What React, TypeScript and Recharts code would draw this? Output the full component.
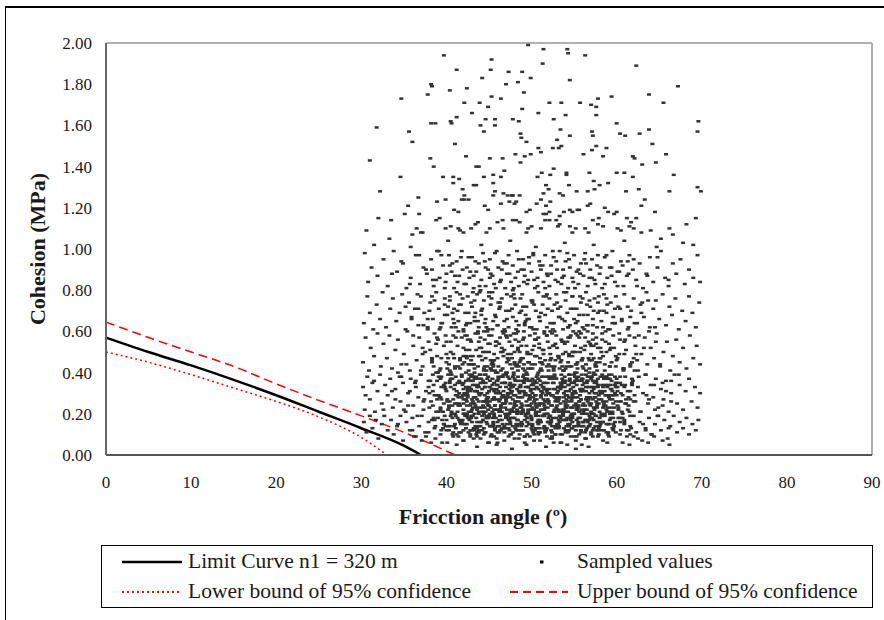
import React from 'react';
import {
  ComposedChart,
  Line,
  Scatter,
  XAxis,
  YAxis,
  ReferenceLine,
  Legend,
  Label,
} from 'recharts';

// Limit curve and its 95% confidence bounds (friction angle in degrees, cohesion in MPa)
const limitX = [0, 5, 10, 15, 20, 25, 30, 35, 37];
const limitY = [0.57, 0.5, 0.435, 0.365, 0.29, 0.21, 0.13, 0.045, 0];
const upperX = [0, 5, 10, 15, 20, 25, 30, 35, 41];
const upperY = [0.645, 0.57, 0.5, 0.43, 0.345, 0.265, 0.19, 0.11, 0];
const lowerX = [0, 5, 10, 15, 20, 25, 30, 33];
const lowerY = [0.5, 0.45, 0.39, 0.325, 0.26, 0.185, 0.085, 0];

const xTicks = [0, 10, 20, 30, 40, 50, 60, 70, 80, 90];
const yTicks = [0, 0.2, 0.4, 0.6, 0.8, 1.0, 1.2, 1.4, 1.6, 1.8, 2.0];

// Sampled values as flat pairs: friction angle in tenths of a degree, cohesion in hundredths of MPa
const sampledTop = [
  496,199, 514,197, 542,197, 543,195, 563,194, 397,194, 453,192, 513,190, 623,189, 412,187,
  452,187, 473,186, 489,186, 499,183, 442,183, 545,182, 470,180, 484,181, 382,180, 383,179,
  672,179, 404,177, 424,178, 491,176, 347,173, 378,175, 453,174, 464,173, 638,175, 578,173,
  594,174, 421,171, 439,171, 449,169, 489,168, 521,171, 535,171, 557,171, 570,170, 576,169,
  655,171, 430,166, 508,166, 576,165, 540,165, 382,161, 387,161, 405,162, 406,161, 412,164,
  446,163, 457,163, 457,160, 440,160, 444,157, 478,163, 485,162, 526,163, 600,161, 696,162,
  318,159, 356,157, 534,158, 695,157, 571,157, 572,155, 487,156, 488,154, 545,155, 604,156,
  610,155, 627,156, 638,158, 360,152, 494,152, 410,151, 530,153, 532,149, 535,150, 508,149,
  525,149, 576,150, 588,149, 642,151, 310,143, 381,144, 423,145, 435,140, 438,140, 451,144,
  466,144, 481,146, 487,142, 492,145, 499,146, 511,147, 561,146, 571,148, 584,145, 619,145,
  621,144, 630,141, 646,142, 658,146, 385,140, 346,135, 396,135, 408,135, 415,134, 444,135,
  455,136, 464,135, 468,138, 507,135, 512,137, 522,136, 526,139, 541,137, 541,136, 568,137,
  573,133, 600,137, 609,137, 619,135, 667,136, 322,128, 367,125, 355,121, 408,132, 419,129,
  432,131, 435,131, 455,132, 457,128, 467,127, 477,126, 421,126, 426,124, 517,131, 520,129,
  514,127, 533,127, 537,126, 544,131, 553,128, 566,128, 574,129, 580,131, 590,132, 611,128,
  626,129, 662,128, 695,130, 699,128,
];

const sampledHigh = [
  389,123, 399,124, 409,119, 414,118, 418,124, 421,124, 445,121, 449,119, 455,126, 464,122,
  472,126, 478,126, 486,126, 474,123, 480,122, 482,123, 494,118, 498,119, 506,122, 511,124,
  517,121, 522,123, 514,117, 517,117, 521,118, 533,116, 538,118, 545,119, 548,118, 554,119,
  556,119, 566,121, 569,122, 572,114, 579,115, 586,120, 590,118, 597,117, 600,118, 612,115,
  617,113, 623,115, 629,121, 633,124, 645,118, 682,112, 693,115, 306,109, 320,115, 335,114,
  333,105, 351,117, 368,117, 360,107, 370,108, 365,110, 372,108, 388,114, 392,115, 399,110,
  405,111, 414,110, 416,109, 420,108, 429,110, 434,112, 437,113, 447,108, 451,110, 460,113,
  466,114, 467,110, 478,114, 482,114, 486,113, 494,108, 496,110, 500,111, 511,110, 516,114,
  521,114, 529,114, 531,111, 533,112, 545,111, 548,108, 552,110, 563,110, 567,108, 578,112,
  584,111, 601,110, 605,109, 615,111, 620,110, 629,108, 640,109, 652,105, 662,110, 666,107,
  678,103, 690,102, 315,102, 358,101, 402,104, 441,102, 475,104, 505,101, 539,103, 573,102,
  609,104, 647,101,
];

const sampledUpperMid = [
  304,98, 312,91, 308,84, 319,87, 326,95, 331,82, 338,99, 342,89, 349,93, 353,81,
  358,86, 364,97, 369,83, 373,91, 377,88, 382,95, 385,82, 389,99, 392,86, 396,92,
  399,84, 403,97, 406,89, 409,81, 412,94, 415,87, 418,99, 421,83, 424,91, 427,86,
  430,96, 432,81, 435,89, 438,93, 441,85, 443,98, 446,82, 449,90, 451,95, 454,87,
  456,83, 459,99, 461,91, 464,85, 466,94, 469,81, 471,88, 473,97, 476,84, 478,92,
  481,86, 483,99, 485,82, 488,90, 490,95, 492,87, 495,83, 497,93, 500,89, 502,98,
  504,81, 507,86, 509,94, 511,90, 514,84, 516,97, 518,88, 521,82, 523,92, 526,96,
  528,85, 530,90, 533,99, 535,83, 538,87, 540,94, 543,81, 545,91, 548,86, 550,97,
  553,89, 555,83, 558,93, 561,87, 563,98, 566,82, 569,90, 571,95, 574,85, 577,92,
  580,88, 583,81, 586,96, 589,86, 592,91, 595,99, 598,84, 601,89, 605,94, 608,82,
  612,87, 615,97, 619,90, 623,85, 627,93, 631,81, 635,88, 639,96, 643,84, 648,91,
  652,99, 657,86, 661,82, 666,93, 670,88, 675,95, 680,83, 685,90, 690,86, 695,97,
  698,84, 383,90, 388,85, 394,97, 400,88, 407,93, 413,84, 419,90, 426,96, 432,87,
  439,82, 445,94, 452,88, 458,81, 465,90, 471,93, 478,80, 484,89, 491,84, 497,96,
  503,85, 510,92, 516,81, 523,88, 529,94, 536,86, 542,98, 549,84, 555,90, 562,95,
  568,86, 575,83, 581,91, 588,97, 594,87, 601,82, 607,92, 614,88, 620,95,
  336,88, 347,94, 357,83, 368,97, 376,90, 384,85, 391,99, 398,81, 404,92, 410,87,
  417,96, 423,83, 428,89, 434,94, 440,80, 446,91, 451,86, 457,98, 463,84, 468,93,
  474,88, 479,81, 485,95, 491,90, 496,85, 502,97, 507,82, 513,92, 519,87, 525,99,
  531,84, 537,90, 544,95, 551,81, 557,88, 564,93, 571,86, 578,97, 586,83, 594,91,
  603,89, 613,94, 624,82, 636,87, 648,96, 661,85,
];

const sampledMid = [
  303,64, 307,77, 310,69, 314,61, 318,73, 322,66, 325,79, 329,62, 334,71, 337,76,
  341,65, 345,69, 348,78, 352,61, 356,74, 359,67, 363,71, 367,63, 370,77, 374,69,
  378,62, 381,74, 384,66, 388,79, 391,71, 395,64, 398,76, 602,72, 606,65, 609,78,
  613,61, 617,70, 620,76, 624,64, 628,73, 632,67, 635,79, 639,62, 643,71, 646,75,
  650,66, 654,78, 658,63, 662,72, 665,68, 669,76, 673,61, 677,70, 681,65, 685,77,
  689,69, 693,62, 697,74, 401,68, 404,75, 406,62, 409,71, 412,79, 414,65, 417,73,
  420,61, 422,69, 425,77, 428,64, 430,72, 433,67, 436,78, 438,62, 441,70, 444,75,
  446,66, 449,61, 452,73, 454,79, 457,68, 460,63, 462,71, 465,76, 468,65, 470,70,
  473,62, 476,77, 478,67, 481,73, 484,60, 486,69, 489,78, 492,64, 494,72, 497,66,
  500,75, 502,61, 505,70, 508,79, 510,65, 513,73, 516,68, 518,62, 521,76, 524,70,
  526,64, 529,78, 532,67, 534,72, 537,61, 540,75, 542,69, 545,63, 548,77, 550,66,
  553,71, 556,60, 558,74, 561,68, 564,79, 566,63, 569,72, 572,66, 574,76, 577,62,
  580,70, 582,65, 585,78, 588,69, 590,61, 593,74, 596,67, 598,71, 402,72, 408,66,
  413,70, 419,76, 423,63, 429,74, 434,69, 439,79, 445,64, 450,77, 455,65, 461,74,
  466,60, 471,78, 477,71, 482,65, 487,76, 493,68, 498,62, 503,73, 509,67, 514,77,
  519,71, 525,61, 530,74, 536,66, 541,79, 546,71, 552,64, 557,77, 562,61, 568,75,
  573,70, 579,77, 584,62, 589,73, 595,64,
  352,72, 359,66, 366,78, 373,63, 380,70, 386,75, 392,61, 398,68, 404,77, 409,64,
  415,73, 420,60, 426,69, 431,79, 437,65, 442,71, 447,62, 453,76, 458,67, 463,74,
  469,60, 474,70, 479,78, 485,63, 490,72, 495,66, 501,75, 506,61, 511,69, 517,77,
  522,64, 527,73, 533,67, 538,79, 543,62, 549,71, 554,65, 560,76, 566,68, 572,63,
  578,74, 585,70, 592,61, 599,77, 606,66, 613,72, 621,64, 629,69, 637,75, 645,62,
  361,58, 367,71, 372,49, 378,66, 383,77, 388,54, 393,62, 398,73, 402,47, 407,69,
  411,57, 416,78, 420,52, 424,64, 429,46, 433,75, 437,59, 441,68, 446,50, 450,79,
  454,61, 458,55, 463,72, 467,48, 471,66, 475,58, 480,76, 484,51, 488,70, 492,63,
  497,45, 501,74, 505,56, 509,67, 514,49, 518,78, 522,60, 526,53, 531,71, 535,46,
  539,65, 543,57, 548,77, 552,50, 556,68, 560,62, 565,73, 569,54, 573,47, 578,69,
  583,59, 588,76, 593,52, 598,64, 604,71, 610,56, 616,67, 623,49, 630,74, 638,60,
  646,55,
];

const sampledLowerMid = [
  302,45, 305,57, 309,41, 311,52, 315,48, 319,59, 323,43, 326,54, 330,47, 333,58,
  336,42, 340,51, 343,56, 347,44, 350,49, 354,60, 357,41, 361,53, 365,46, 368,57,
  372,43, 375,50, 379,55, 383,45, 386,59, 389,48, 393,42, 397,53, 601,47, 604,56,
  608,42, 611,51, 615,58, 618,45, 622,53, 625,41, 629,49, 633,57, 636,44, 640,52,
  644,47, 647,59, 651,43, 655,50, 659,55, 663,41, 666,48, 670,56, 674,45, 678,52,
  682,42, 686,58, 690,47, 694,53, 698,44, 400,55, 403,44, 405,50, 408,58, 410,42,
  413,53, 416,47, 418,57, 421,45, 423,51, 426,41, 429,55, 431,48, 434,59, 437,43,
  439,52, 442,46, 445,56, 447,41, 450,50, 453,58, 455,44, 458,53, 460,47, 463,57,
  466,42, 468,51, 471,45, 474,55, 476,49, 479,59, 482,43, 484,52, 487,46, 490,56,
  492,41, 495,50, 498,58, 500,44, 503,53, 506,48, 508,57, 511,42, 514,51, 516,46,
  519,55, 522,49, 524,59, 527,43, 530,52, 532,47, 535,56, 538,41, 540,50, 543,45,
  546,58, 548,48, 551,53, 554,42, 556,57, 559,46, 562,51, 564,44, 567,55, 570,49,
  572,59, 575,43, 578,52, 580,47, 583,56, 586,41, 588,50, 591,54, 594,45, 596,58,
  599,48, 381,51, 385,43, 390,56, 394,47, 399,58, 404,41, 409,47, 414,60, 419,44,
  424,58, 428,48, 433,42, 438,55, 443,50, 448,60, 452,46, 457,41, 462,54, 467,59,
  472,47, 477,42, 481,56, 486,50, 491,60, 496,45, 501,51, 505,56, 510,47, 515,60,
  520,44, 525,53, 529,58, 534,45, 539,54, 544,48, 549,60, 553,44, 558,52, 563,57,
  568,46, 573,53, 577,41, 582,50, 587,55, 592,43, 597,52, 603,59, 609,49, 616,43,
  621,57, 420,48, 425,56, 430,44, 435,51, 440,57, 445,43, 451,54, 456,49, 461,43,
  465,52, 470,58, 475,44, 480,50, 485,55, 490,47, 494,53, 499,42, 504,59, 509,52,
  513,44, 518,58, 523,47, 528,54, 533,42, 537,49, 542,55, 547,43, 552,59, 557,50,
  561,42, 566,60, 571,46, 576,54,
  372,52, 378,61, 383,47, 389,57, 394,64, 400,49, 405,55, 411,62, 416,46, 422,58,
  427,51, 433,65, 438,48, 444,60, 449,54, 455,46, 460,63, 466,50, 471,57, 477,47,
  482,61, 488,53, 493,65, 499,49, 504,56, 510,45, 515,59, 521,52, 526,64, 532,48,
  537,55, 543,62, 548,50, 554,58, 559,46, 565,63, 570,53, 576,57, 581,47, 587,60,
  592,51, 598,64, 603,49, 609,55, 614,62, 620,47, 626,58, 632,52,
  423,48, 428,56, 432,44, 437,60, 441,52, 446,47, 450,58, 455,43, 459,55, 464,50,
  468,61, 473,46, 477,53, 482,59, 486,45, 491,57, 495,49, 500,62, 504,44, 509,54,
  513,51, 518,58, 522,46, 527,60, 531,48, 536,55, 540,42, 545,57, 549,50, 554,45,
  558,59, 563,53, 567,47, 572,56, 576,43, 581,52,
];

const sampledCore = [
  302,33, 304,22, 307,38, 310,27, 313,35, 316,21, 319,31, 322,39, 324,25, 328,34,
  331,29, 334,37, 337,23, 340,32, 343,40, 346,26, 349,35, 352,21, 355,30, 358,37,
  361,24, 364,33, 367,28, 370,39, 373,22, 376,31, 379,36, 382,26, 385,34, 388,21,
  391,29, 394,38, 397,25, 305,29, 315,36, 326,22, 336,31, 345,38, 355,24, 364,36,
  374,27, 384,39, 393,23, 601,24, 604,35, 607,29, 610,38, 613,22, 616,31, 619,36,
  622,26, 625,33, 628,21, 631,30, 634,39, 637,25, 640,34, 643,28, 646,37, 649,23,
  652,32, 655,27, 658,36, 661,21, 664,30, 668,39, 671,25, 674,34, 678,22, 681,31,
  685,37, 688,26, 692,33, 695,23, 698,30, 606,21, 616,27, 626,38, 635,29, 645,22,
  654,35, 664,26, 673,39,
  400,31, 403,23, 405,37, 408,27, 410,34, 413,21, 415,30, 418,39, 420,25, 423,33,
  425,28, 428,36, 430,22, 433,31, 435,38, 438,26, 440,35, 443,21, 445,29, 448,37,
  450,24, 453,32, 455,27, 458,40, 460,22, 463,30, 465,35, 468,25, 470,33, 473,20,
  475,28, 478,38, 480,24, 483,32, 485,26, 488,36, 490,21, 493,30, 495,39, 498,27,
  500,34, 503,22, 505,29, 508,37, 510,25, 513,33, 515,20, 518,31, 520,38, 523,24,
  525,35, 528,28, 530,22, 533,33, 535,39, 538,26, 540,31, 543,21, 545,36, 548,29,
  550,24, 553,34, 555,38, 558,27, 560,32, 563,22, 565,36, 568,30, 570,25, 573,39,
  575,28, 578,33, 580,21, 583,30, 585,37, 588,26, 590,34, 593,23, 595,31, 598,38,
  401,26, 404,35, 406,21, 409,32, 411,38, 414,28, 416,24, 419,34, 421,20, 424,30,
  426,37, 429,25, 431,34, 434,28, 436,22, 439,39, 441,30, 444,26, 446,33, 449,22,
  451,36, 454,21, 456,31, 459,27, 461,38, 464,24, 466,29, 469,35, 471,22, 474,37,
  476,31, 479,21, 481,29, 484,38, 486,33, 489,24, 491,35, 494,26, 496,22, 499,31,
  501,37, 504,27, 506,33, 509,21, 511,29, 514,38, 516,26, 519,23, 521,32, 524,29,
  526,21, 529,37, 531,31, 534,25, 536,21, 539,35, 541,27, 544,39, 546,23, 549,33,
  551,38, 554,28, 556,21, 559,36, 561,25, 564,31, 566,20, 569,38, 571,33, 574,23,
  576,35, 579,25, 581,38, 584,23, 586,31, 589,21, 591,28, 594,36, 596,25, 599,33,
  380,30, 384,24, 389,36, 393,28, 398,33, 402,39, 407,24, 411,29, 416,35, 420,22,
  425,31, 429,38, 434,24, 438,30, 443,36, 447,27, 452,23, 456,35, 461,31, 465,21,
  470,27, 474,34, 479,29, 483,22, 488,31, 492,37, 497,24, 501,30, 506,23, 510,36,
  515,32, 519,27, 524,37, 528,32, 533,28, 537,36, 542,24, 546,32, 551,28, 555,23,
  560,37, 564,27, 569,24, 573,32, 578,37, 582,27, 587,34, 591,39, 596,29, 600,35,
  605,26, 609,33, 614,24, 618,34,
  430,27, 433,37, 436,33, 439,23, 442,32, 445,39, 448,30, 451,26, 454,37, 457,24,
  460,34, 463,27, 466,38, 469,23, 472,30, 475,25, 478,34, 481,36, 484,28, 487,23,
  490,38, 493,33, 496,29, 499,22, 502,35, 505,25, 508,32, 511,22, 514,35, 517,29,
  520,26, 523,38, 526,32, 529,23, 532,28, 535,35, 538,30, 541,23, 544,34, 547,26,
  550,31, 553,37, 556,26, 559,22, 562,35, 565,28, 568,33, 571,38, 574,30, 577,24,
];

const sampledDense = [
  380,23, 384,31, 387,14, 391,38, 394,27, 398,19, 401,42, 405,33, 408,11, 412,25,
  415,36, 419,17, 422,29, 426,44, 429,21, 433,34, 436,13, 440,39, 443,26, 447,16,
  450,31, 454,45, 457,22, 461,37, 464,12, 468,28, 471,40, 475,18, 478,33, 482,24,
  485,43, 489,15, 492,30, 496,20, 499,36, 503,10, 506,27, 510,41, 513,19, 517,32,
  520,25, 524,14, 527,38, 531,22, 534,35, 538,28, 541,17, 545,43, 548,30, 552,12,
  555,24, 559,37, 562,20, 566,33, 569,15, 573,40, 576,26, 580,18, 583,34, 587,29,
  590,11, 594,39, 597,23, 601,31, 604,16, 608,42, 611,27, 615,21, 618,35,
  381,36, 385,18, 389,27, 392,41, 396,13, 399,32, 403,24, 406,39, 410,20, 413,29,
  417,15, 420,35, 424,26, 427,44, 431,19, 434,31, 438,11, 441,37, 445,23, 448,28,
  452,42, 455,16, 459,34, 462,21, 466,38, 469,25, 473,13, 476,30, 480,45, 483,17,
  487,33, 490,22, 494,40, 497,27, 501,12, 504,36, 508,19, 511,31, 515,24, 518,43,
  522,15, 525,29, 529,37, 532,21, 536,10, 539,33, 543,26, 546,18, 550,39, 553,23,
  557,32, 560,14, 564,41, 567,28, 571,20, 574,35, 578,12, 581,30, 585,24, 588,38,
  592,17, 595,27, 599,43, 602,22, 606,34, 609,15, 613,31, 616,19, 620,26,
  383,17, 386,29, 390,40, 393,22, 397,34, 400,12, 404,26, 407,37, 411,19, 414,43,
  418,28, 421,15, 425,32, 428,24, 432,38, 435,10, 439,30, 442,21, 446,35, 449,18,
  453,41, 456,27, 460,14, 463,33, 467,25, 470,39, 474,20, 477,31, 481,13, 484,36,
  488,23, 491,44, 495,16, 498,28, 502,34, 505,21, 509,11, 512,38, 516,26, 519,30,
  523,17, 526,42, 530,24, 533,33, 537,19, 540,36, 544,14, 547,27, 551,40, 554,22,
  558,31, 561,16, 565,35, 568,25, 572,12, 575,39, 579,29, 582,20, 586,44, 589,23,
  593,32, 596,15, 600,37, 603,26, 607,18, 610,34, 614,28, 617,13, 621,41,
  410,25, 413,35, 416,16, 419,29, 423,40, 426,21, 429,32, 432,13, 436,27, 439,37,
  442,19, 445,33, 449,24, 452,42, 455,15, 458,30, 462,22, 465,38, 468,11, 471,28,
  475,35, 478,18, 481,26, 484,41, 488,20, 491,31, 494,14, 497,36, 501,23, 504,29,
  507,39, 510,17, 514,33, 517,12, 520,26, 523,43, 527,21, 530,30, 533,16, 536,37,
  540,24, 543,34, 546,19, 549,28, 553,40, 556,14, 559,32, 562,22, 566,36, 569,18,
  572,27, 575,44, 579,13, 582,31, 585,25, 588,38, 592,20, 595,29, 598,34,
  421,30, 424,20, 427,39, 431,26, 434,14, 437,34, 441,23, 444,42, 447,18, 450,31,
  454,27, 457,12, 460,36, 463,22, 467,29, 470,40, 473,17, 476,33, 480,25, 483,44,
  486,15, 489,28, 493,37, 496,21, 499,32, 502,11, 506,35, 509,24, 512,41, 515,19,
  519,30, 522,16, 525,38, 528,26, 532,13, 535,34, 538,22, 541,43, 545,28, 548,18,
  551,36, 554,24, 558,31, 561,14, 564,39, 567,27, 571,20, 574,33, 577,23, 580,45,
  584,16, 587,29, 590,37,
  430,12, 433,20, 436,9, 440,16, 443,24, 446,11, 449,18, 453,14, 456,22, 459,8,
  462,17, 466,25, 469,13, 472,19, 475,10, 479,23, 482,15, 485,21, 488,12, 492,9,
  495,18, 498,24, 501,14, 505,20, 508,11, 511,16, 514,25, 518,13, 521,19, 524,8,
  527,22, 531,15, 534,10, 537,17, 540,23, 544,12, 547,20, 550,14, 553,9, 557,18,
  560,24, 563,11, 566,16, 570,21, 573,13, 576,19, 579,10,
  340,27, 343,15, 347,38, 350,22, 353,44, 357,31, 360,12, 363,35, 366,19, 370,41,
  373,26, 376,9, 379,33, 383,46, 386,17, 389,29, 393,37, 396,21, 399,14,
  601,33, 604,18, 608,42, 611,25, 614,12, 618,37, 621,29, 624,46, 628,21, 631,15,
  634,39, 638,27, 641,10, 644,34, 648,19, 651,44, 654,24, 658,31, 661,13, 664,36,
  392,28, 395,17, 399,35, 402,22, 405,40, 409,14, 412,31, 415,25, 418,38, 422,19,
  425,29, 428,12, 431,36, 435,23, 438,33, 441,16, 444,41, 448,27, 451,20, 454,34,
  457,13, 461,30, 464,24, 467,39, 470,18, 474,32, 477,22, 480,37, 483,15, 487,28,
  490,42, 493,20, 496,33, 500,17, 503,26, 506,38, 509,13, 513,30, 516,23, 519,35,
  522,19, 526,41, 529,27, 532,14, 535,33, 539,21, 542,29, 545,39, 548,16, 552,25,
  555,36, 558,12, 561,31, 565,22, 568,40, 571,18, 574,28, 578,34, 581,15, 584,26,
  587,37, 591,21, 594,32, 597,14, 600,29, 604,38, 607,20, 610,25,
  388,40, 391,21, 394,33, 397,15, 401,27, 404,36, 407,18, 410,43, 414,24, 417,11,
  420,32, 423,27, 427,17, 430,39, 433,25, 436,31, 440,14, 443,35, 446,21, 449,28,
  453,44, 456,19, 459,32, 462,26, 466,15, 469,35, 472,29, 475,21, 479,40, 482,12,
  485,31, 488,25, 492,36, 495,18, 498,29, 501,42, 505,24, 508,15, 511,34, 514,27,
  518,20, 521,37, 524,11, 527,28, 531,33, 534,18, 537,41, 540,25, 544,31, 547,13,
  550,35, 553,22, 557,29, 560,43, 563,17, 566,26, 570,37, 573,23, 576,30, 579,14,
  583,39, 586,19, 589,33, 592,27, 596,12, 599,35, 602,23, 605,30, 609,17,
  420,27, 423,36, 425,18, 428,31, 431,23, 433,40, 436,16, 439,29, 441,35, 444,20,
  447,26, 449,38, 452,14, 455,32, 457,24, 460,40, 463,19, 465,28, 468,35, 471,15,
  473,30, 476,22, 479,39, 481,26, 484,17, 487,34, 489,21, 492,29, 495,37, 497,15,
  500,25, 503,32, 505,19, 508,40, 511,28, 513,22, 516,35, 519,16, 521,30, 524,24,
  527,39, 529,18, 532,27, 535,34, 537,20, 540,29, 543,15, 545,37, 548,23, 551,31,
  553,17, 556,26, 559,39, 561,21, 564,33, 567,14, 569,28, 572,36, 575,19, 577,25,
  580,31, 583,16, 585,38, 588,22, 591,29, 593,34, 596,18, 599,26,
  422,15, 424,24, 427,33, 430,19, 432,28, 435,37, 438,21, 440,30, 443,17, 446,39,
  448,25, 451,33, 454,18, 456,28, 459,36, 462,14, 464,23, 467,31, 470,26, 472,38,
  475,16, 478,27, 480,34, 483,21, 486,30, 488,14, 491,39, 494,24, 496,33, 499,19,
  502,28, 504,36, 507,16, 510,25, 512,31, 515,22, 518,38, 520,18, 523,29, 526,35,
  528,14, 531,26, 534,32, 536,22, 539,38, 542,18, 544,28, 547,35, 550,20, 552,30,
  555,16, 558,27, 560,34, 563,24, 566,38, 568,17, 571,31, 574,22, 576,36, 579,27,
  582,19, 584,33, 587,24, 590,15, 592,37, 595,21, 598,30,
  400,45, 404,14, 408,49, 412,10, 416,42, 420,12, 424,47, 428,9, 432,44, 436,11,
  440,48, 444,13, 448,43, 452,9, 456,46, 460,11, 464,41, 468,14, 472,49, 476,10,
  480,44, 484,12, 488,47, 492,9, 496,42, 500,13, 504,48, 508,10, 512,45, 516,12,
  520,41, 524,9, 528,46, 532,14, 536,43, 540,11, 544,49, 548,13, 552,44, 556,10,
  560,47, 564,12, 568,42, 572,9, 576,45, 580,14, 584,48, 588,11, 592,43, 596,13,
  600,46, 604,10, 608,41, 612,12, 616,44, 620,9,
];

const sampledLow = [
  303,16, 306,11, 310,19, 313,13, 317,17, 320,8, 324,15, 327,19, 331,12, 335,17,
  338,10, 342,14, 346,19, 349,7, 353,16, 357,12, 360,18, 364,9, 368,14, 371,19,
  375,11, 379,16, 382,6, 386,13, 390,18, 393,10, 397,15, 602,18, 605,12, 609,16,
  612,9, 616,14, 620,19, 623,11, 627,16, 630,7, 634,13, 638,18, 641,10, 645,15,
  649,19, 652,12, 656,17, 660,8, 663,14, 667,19, 671,11, 674,16, 678,13, 682,18,
  685,10, 689,15, 693,12, 696,17,
  400,17, 403,12, 405,19, 408,9, 410,15, 413,18, 415,11, 418,16, 420,7, 423,13,
  425,19, 428,10, 430,16, 433,12, 435,18, 438,14, 440,8, 443,17, 445,11, 448,15,
  450,19, 453,10, 455,14, 458,18, 460,6, 463,12, 465,17, 468,13, 470,19, 473,9,
  475,15, 478,11, 480,18, 483,14, 485,8, 488,16, 490,12, 493,19, 495,10, 498,15,
  500,18, 503,7, 505,13, 508,17, 510,11, 513,19, 515,14, 518,9, 520,16, 523,12,
  525,18, 528,10, 530,15, 533,19, 535,6, 538,13, 540,17, 543,11, 545,15, 548,19,
  550,9, 553,14, 555,18, 558,12, 560,16, 563,8, 565,13, 568,19, 570,11, 573,17,
  575,14, 578,9, 580,16, 583,19, 585,12, 588,15, 590,10, 593,18, 595,13, 598,16,
  402,14, 406,20, 411,13, 415,17, 420,20, 424,15, 429,18, 433,13, 438,20, 442,12,
  447,19, 451,14, 456,20, 460,16, 465,13, 469,20, 474,17, 478,14, 483,20, 487,12,
  492,17, 496,20, 501,15, 505,20, 510,16, 514,13, 519,20, 523,16, 528,13, 532,17,
  537,20, 541,14, 546,17, 550,20, 555,15, 559,20, 564,17, 568,14, 573,20, 577,16,
  582,12, 586,20, 591,15, 595,20,
  362,9, 371,7, 379,11, 387,8, 394,12, 401,6, 407,10, 414,9, 420,7, 426,11,
  432,8, 438,12, 444,10, 450,6, 456,9, 462,11, 468,7, 474,12, 480,8, 486,10,
  492,6, 498,9, 504,12, 510,7, 516,11, 522,8, 528,10, 534,6, 540,12, 546,9,
  552,7, 558,11, 564,8, 570,10, 577,12, 584,7, 591,9, 599,11, 607,6, 616,10,
  625,8, 634,12, 644,9, 654,7,
  412,5, 436,4, 459,5, 477,3, 494,5, 517,4, 542,5, 567,4, 589,6, 615,5,
  637,6, 662,5, 395,6, 449,6, 526,6, 559,5, 552,3,
];

const toPoints = (xs: number[], ys: number[]) => xs.map((x, i) => ({ x, y: ys[i] }));

const fromPairs = (flat: number[]) => {
  const out: { x: number; y: number }[] = [];
  for (let i = 0; i + 1 < flat.length; i += 2) out.push({ x: flat[i] / 10, y: flat[i + 1] / 100 });
  return out;
};

const limitData = toPoints(limitX, limitY);
const upperData = toPoints(upperX, upperY);
const lowerData = toPoints(lowerX, lowerY);
const sampledData = [
  sampledTop,
  sampledHigh,
  sampledUpperMid,
  sampledMid,
  sampledLowerMid,
  sampledCore,
  sampledDense,
  sampledLow,
].flatMap(fromPairs);

const SERIF = '"Liberation Serif", "Times New Roman", serif';
const TEXT = '#1a1a1a';

const SampleMark = (props: any) => {
  const { cx, cy } = props;
  if (cx == null || cy == null) return null;
  return <rect x={cx - 2} y={cy - 1.25} width={4} height={2.5} fill="#333" />;
};

const LegendBox = () => {
  const text: React.CSSProperties = {
    position: 'absolute',
    lineHeight: '24px',
    whiteSpace: 'nowrap',
  };
  return (
    <div
      style={{
        width: 772,
        height: 63,
        border: '1.5px solid #000',
        boxSizing: 'border-box',
        position: 'relative',
        fontFamily: SERIF,
        fontSize: 21.5,
        color: TEXT,
        background: '#fff',
      }}
    >
      <svg width={60} height={6} style={{ position: 'absolute', left: 20, top: 13 }}>
        <line x1={0} y1={3} x2={60} y2={3} stroke="#000" strokeWidth={2.5} />
      </svg>
      <div style={{ ...text, left: 86, top: 3 }}>Limit Curve n1 = 320 m</div>

      <svg width={6} height={6} style={{ position: 'absolute', left: 437, top: 13 }}>
        <rect x={1} y={1.5} width={3.5} height={3} fill="#000" />
      </svg>
      <div style={{ ...text, left: 475, top: 3 }}>Sampled values</div>

      <svg width={60} height={6} style={{ position: 'absolute', left: 20, top: 43 }}>
        <line x1={0} y1={3} x2={58} y2={3} stroke="#f00" strokeWidth={2} strokeDasharray="2 3" />
      </svg>
      <div style={{ ...text, left: 86, top: 33 }}>Lower bound of 95% confidence</div>

      <svg width={60} height={6} style={{ position: 'absolute', left: 408, top: 43 }}>
        <line x1={0} y1={3} x2={58} y2={3} stroke="#f00" strokeWidth={2} strokeDasharray="8 5" />
      </svg>
      <div style={{ ...text, left: 475, top: 33 }}>Upper bound of 95% confidence</div>
    </div>
  );
};

const tickStyle = { fontFamily: SERIF, fontSize: 17, fill: TEXT };

export default function App() {
  return (
    <div
      style={{
        position: 'absolute',
        left: 0,
        top: 0,
        width: 884,
        height: 620,
        background: '#fff',
        overflow: 'hidden',
      }}
    >
      <div
        style={{
          position: 'absolute',
          left: 5,
          top: 6,
          width: 900,
          height: 700,
          borderLeft: '1.5px solid #000',
          borderTop: '2px solid #000',
        }}
      />
      <ComposedChart
        width={884}
        height={620}
        margin={{ top: 43, right: 12, bottom: 85, left: 0 }}
      >
        <XAxis
          type="number"
          dataKey="x"
          domain={[0, 90]}
          ticks={xTicks}
          interval={0}
          tickLine={false}
          tickMargin={15}
          height={80}
          axisLine={{ stroke: '#555', strokeWidth: 2 }}
          tick={tickStyle}
        >
          <Label
            content={(props: any) => {
              const vb = props.viewBox;
              return (
                <text
                  x={vb.x + vb.width / 2 - 6}
                  y={vb.y + 68.5}
                  textAnchor="middle"
                  fontFamily={SERIF}
                  fontSize={22}
                  fontWeight="bold"
                  fill={TEXT}
                >
                  Fricction angle (º)
                </text>
              );
            }}
          />
        </XAxis>
        <YAxis
          type="number"
          dataKey="y"
          domain={[0, 2]}
          ticks={yTicks}
          interval={0}
          tickLine={false}
          tickMargin={8}
          width={106}
          axisLine={{ stroke: '#666', strokeWidth: 2 }}
          tick={tickStyle}
          tickFormatter={(v: number) => v.toFixed(2)}
        >
          <Label
            content={() => (
              <text
                transform="translate(45,249) rotate(-90)"
                textAnchor="middle"
                fontFamily={SERIF}
                fontSize={22}
                fontWeight="bold"
                fill={TEXT}
              >
                Cohesion (MPa)
              </text>
            )}
          />
        </YAxis>
        <ReferenceLine y={2} stroke="#b0b0b0" strokeWidth={2} />
        <ReferenceLine x={90} stroke="#b0b0b0" strokeWidth={2} />

        <Scatter
          name="Sampled values"
          data={sampledData}
          dataKey="y"
          shape={SampleMark}
          isAnimationActive={false}
        />
        <Line
          name="Lower bound of 95% confidence"
          data={lowerData}
          dataKey="y"
          type="monotone"
          stroke="#f00"
          strokeWidth={1.5}
          strokeDasharray="2 3"
          dot={false}
          activeDot={false}
          isAnimationActive={false}
        />
        <Line
          name="Upper bound of 95% confidence"
          data={upperData}
          dataKey="y"
          type="monotone"
          stroke="#f00"
          strokeWidth={1.5}
          strokeDasharray="9 5"
          dot={false}
          activeDot={false}
          isAnimationActive={false}
        />
        <Line
          name="Limit Curve n1 = 320 m"
          data={limitData}
          dataKey="y"
          type="monotone"
          stroke="#000"
          strokeWidth={2.5}
          dot={false}
          activeDot={false}
          isAnimationActive={false}
        />
        <Legend
          layout="horizontal"
          verticalAlign="middle"
          align="center"
          wrapperStyle={{ position: 'absolute', left: 101, top: 545, width: 772, height: 63 }}
          content={() => <LegendBox />}
        />
      </ComposedChart>
    </div>
  );
}
